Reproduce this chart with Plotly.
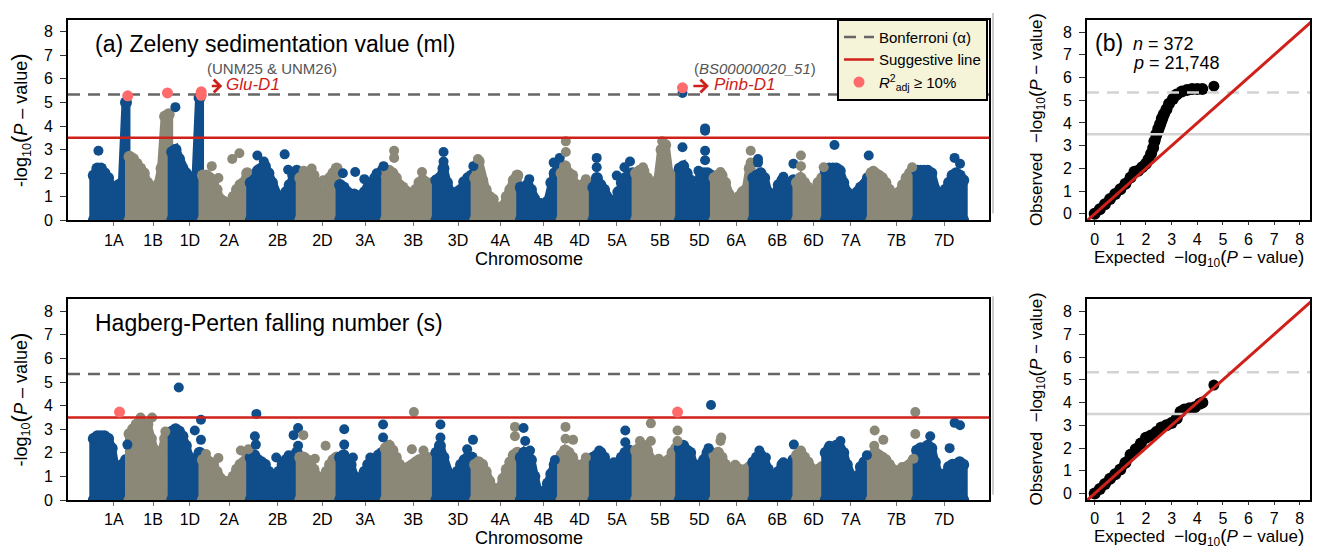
import plotly.graph_objects as go

# la page HTML ajoute une marge de 8 px autour de la figure
OFF = 8
W, H = 1320 - OFF, 555 - OFF
FONT = "Liberation Sans, Arial, Helvetica, sans-serif"
BLUE = "#104E8B"
GRAY = "#8B8878"
HIT = "#FF6A6A"
RED = "#D0201A"

BONFERRONI = 5.34
SUGGESTIVE = 3.5

CHROMS = ["1A", "1B", "1D", "2A", "2B", "2D", "3A", "3B", "3D", "4A", "4B",
          "4D", "5A", "5B", "5D", "6A", "6B", "6D", "7A", "7B", "7D"]
CHR_LEN_MB = [576, 688, 496, 768, 800, 640, 736, 816, 624, 736, 656,
              512, 688, 704, 560, 624, 704, 464, 736, 736, 800]

# enveloppe (haut du nuage de points) lue le long de chaque chromosome
ZEL_ENV = [
    [1.9, 2.2, 2.2, 2.0, 1.8, 1.4, 1.4, 1.5, 1.6, 5.0],
    [2.7, 2.6, 2.4, 2.2, 2.0, 1.6, 1.3, 1.2, 1.5, 2.2, 4.4, 4.5],
    [2.9, 3.0, 2.6, 2.2, 2.0, 1.8, 1.7, 1.9, 5.2],
    [1.9, 1.9, 1.8, 1.6, 1.3, 0.9, 0.8, 0.7, 0.7, 1.0, 1.3, 1.5, 1.6, 2.0],
    [1.6, 1.7, 2.1, 2.2, 2.3, 2.0, 1.6, 1.1, 0.9, 0.9, 1.2, 1.5, 1.9, 2.1],
    [1.8, 1.9, 2.0, 2.0, 1.9, 1.5, 1.1, 1.0, 1.3, 1.8, 2.0, 2.2],
    [1.5, 1.4, 1.2, 1.1, 1.1, 1.0, 1.0, 1.2, 1.4, 1.6, 1.8, 1.9, 2.1],
    [2.0, 2.1, 2.0, 1.8, 1.5, 1.4, 1.2, 1.1, 1.1, 1.3, 1.6, 1.7, 1.6, 1.5, 1.6],
    [1.7, 1.8, 2.2, 1.6, 1.2, 1.1, 1.2, 1.3, 1.6, 1.8, 1.9],
    [1.8, 2.5, 1.7, 1.3, 1.0, 0.9, 0.5, 0.4, 0.6, 1.0, 1.3, 1.7, 1.9],
    [1.4, 1.4, 1.5, 1.3, 0.9, 0.7, 0.7, 0.6, 0.8, 1.6, 2.0, 2.2],
    [2.0, 2.3, 2.0, 1.9, 1.5, 1.3, 1.5, 1.6, 1.5],
    [1.4, 1.8, 1.5, 1.3, 0.9, 0.8, 0.8, 1.2, 1.6, 1.8, 1.9, 2.0],
    [2.0, 2.1, 2.1, 1.8, 1.5, 1.5, 1.7, 3.0, 3.2, 2.0, 1.9, 1.8],
    [2.2, 2.3, 2.0, 1.7, 1.2, 1.3, 1.8, 2.0, 2.0, 1.9],
    [1.8, 1.9, 1.9, 1.6, 1.1, 0.8, 0.7, 1.0, 1.2, 1.3, 2.2],
    [1.8, 1.9, 2.0, 1.8, 1.2, 1.0, 1.1, 1.5, 1.7, 1.6, 1.6, 1.7],
    [1.6, 1.8, 1.6, 1.4, 1.1, 1.2, 1.6, 1.8],
    [2.1, 2.2, 2.2, 2.2, 2.1, 1.6, 1.2, 1.0, 1.0, 1.2, 1.4, 1.5, 1.8],
    [2.0, 2.0, 1.9, 1.8, 1.6, 1.3, 1.1, 1.0, 1.2, 1.5, 1.8, 2.0, 2.0],
    [2.1, 2.1, 2.1, 2.1, 2.0, 1.3, 0.9, 0.9, 1.3, 1.6, 1.9, 2.0, 1.9, 1.7],
]
HFN_ENV = [
    [2.6, 2.7, 2.7, 2.7, 2.6, 2.2, 1.3, 1.3, 1.5, 1.7],
    [2.8, 3.0, 3.2, 3.3, 3.0, 3.2, 2.6, 2.1, 2.0, 2.0, 2.6, 2.3],
    [2.9, 3.0, 2.9, 2.7, 2.3, 1.8, 1.7, 1.7, 2.0],
    [1.7, 1.7, 1.6, 1.5, 1.2, 0.9, 0.8, 0.7, 0.8, 1.0, 1.3, 1.5, 1.6, 1.8],
    [1.8, 1.9, 1.7, 1.6, 1.5, 1.2, 0.8, 0.8, 1.2, 1.5, 1.7, 1.7, 1.8, 2.0],
    [1.8, 1.8, 1.7, 1.5, 1.3, 1.0, 0.8, 0.9, 1.2, 1.5, 1.7, 1.8],
    [1.8, 1.9, 1.7, 1.5, 1.0, 0.8, 0.9, 1.2, 1.5, 1.6, 1.7, 1.9, 2.0],
    [2.2, 2.3, 2.1, 1.8, 1.5, 1.3, 1.2, 1.4, 1.5, 1.6, 1.7, 1.7, 1.8, 1.7, 1.8],
    [2.0, 2.3, 1.8, 1.2, 0.9, 0.9, 1.2, 1.5, 1.7, 1.8, 1.8],
    [1.5, 1.6, 1.5, 1.2, 0.8, 0.5, 0.4, 0.5, 0.9, 1.3, 1.6, 1.9, 2.0],
    [1.8, 2.0, 1.9, 1.7, 1.0, 0.4, 0.3, 0.3, 0.7, 1.1, 1.5, 1.6],
    [1.9, 2.1, 2.0, 1.8, 1.5, 1.4, 1.5, 1.6, 1.5],
    [1.8, 1.9, 2.0, 1.8, 1.3, 1.1, 1.2, 1.4, 1.8, 2.0, 2.1, 2.0],
    [2.1, 2.2, 2.3, 2.1, 1.7, 1.5, 1.6, 1.6, 1.5, 1.7, 2.0, 2.2],
    [2.2, 2.3, 2.1, 2.0, 1.5, 1.4, 1.5, 1.7, 2.0, 2.0],
    [1.9, 2.0, 1.8, 1.5, 1.3, 1.3, 1.4, 1.3, 1.2, 1.3, 1.4],
    [1.6, 1.8, 1.9, 1.7, 1.3, 1.0, 0.9, 1.2, 1.5, 1.4, 1.5, 1.7],
    [1.9, 2.0, 1.8, 1.6, 1.3, 1.2, 1.3, 1.4],
    [2.0, 2.2, 2.2, 2.3, 2.2, 2.0, 1.5, 1.0, 0.8, 1.0, 1.4, 1.6, 1.8],
    [1.8, 2.0, 1.9, 1.8, 1.7, 1.5, 1.3, 1.2, 1.2, 1.3, 1.4, 1.5, 1.7],
    [2.1, 2.2, 2.2, 2.3, 2.2, 1.6, 1.1, 1.0, 1.1, 1.4, 1.5, 1.5, 1.6, 1.5],
]

# points isolés : (chromosome, position relative, -log10 P)
ZEL_OUT = [
    ("1A", 0.18, 2.95), ("1D", 0.16, 4.8),
    ("2A", 0.22, 2.3), ("2A", 0.36, 1.8), ("2A", 0.65, 2.6), ("2A", 0.80, 2.85),
    ("2B", 0.17, 2.75), ("2B", 0.30, 2.5), ("2B", 0.72, 2.8), ("2B", 0.79, 2.15),
    ("2D", 0.13, 2.1), ("2D", 0.33, 2.2), ("2D", 0.62, 1.7),
    ("3A", 0.10, 2.0), ("3A", 0.37, 2.05), ("3A", 0.57, 1.75), ("3A", 0.84, 2.0), ("3A", 0.99, 2.3),
    ("3B", 0.20, 2.95), ("3B", 0.20, 2.65), ("3B", 0.75, 2.05),
    ("3D", 0.23, 2.9), ("3D", 0.23, 2.5), ("3D", 0.74, 1.65), ("3D", 1.0, 2.3),
    ("4A", 0.10, 2.6),
    ("4B", 0.25, 1.75), ("4B", 0.85, 2.45), ("4B", 1.0, 2.65),
    ("4D", 0.19, 3.35), ("4D", 0.19, 2.9), ("4D", 0.82, 1.75),
    ("5A", 0.12, 2.65), ("5A", 0.12, 2.25), ("5A", 0.59, 1.9), ("5A", 0.77, 2.25), ("5A", 0.90, 2.5),
    ("5B", 0.20, 2.25), ("5B", 0.64, 3.35),
    ("5D", 0.13, 3.1), ("5D", 0.13, 5.4), ("5D", 0.78, 3.9), ("5D", 0.78, 3.8),
    ("5D", 0.78, 2.95), ("5D", 0.78, 2.55), ("5D", 0.59, 2.1),
    ("6A", 0.20, 2.05), ("6A", 0.98, 2.95), ("6A", 0.98, 2.45),
    ("6B", 0.15, 2.6), ("6B", 0.15, 2.45), ("6B", 0.73, 1.85), ("6B", 0.96, 2.4),
    ("6D", 0.20, 2.75), ("6D", 0.20, 2.3), ("6D", 0.99, 2.25),
    ("7A", 0.23, 3.2), ("7A", 0.98, 2.75),
    ("7B", 0.08, 2.1), ("7B", 0.93, 2.25),
    ("7D", 0.79, 2.65), ("7D", 0.90, 2.4),
]
HFN_OUT = [
    ("1A", 0.99, 2.35),
    ("1B", 0.30, 3.5), ("1B", 0.57, 3.5), ("1B", 0.88, 2.9),
    ("1D", 0.27, 4.77), ("1D", 0.79, 2.95), ("1D", 0.99, 3.4), ("1D", 0.99, 2.55),
    ("2A", 0.10, 1.95), ("2A", 0.36, 1.78), ("2A", 0.83, 2.1), ("2A", 0.99, 2.15),
    ("2B", 0.15, 3.65), ("2B", 0.12, 2.7), ("2B", 0.14, 2.35), ("2B", 0.55, 1.8),
    ("2B", 0.80, 1.9), ("2B", 0.90, 2.75), ("2B", 0.99, 3.05), ("2B", 0.99, 2.3),
    ("2D", 0.12, 2.75), ("2D", 0.41, 1.75), ("2D", 0.68, 2.3),
    ("3A", 0.13, 3.0), ("3A", 0.13, 2.35), ("3A", 0.32, 1.8), ("3A", 0.70, 1.8),
    ("3A", 0.98, 3.2), ("3A", 0.98, 2.65),
    ("3B", 0.59, 3.73), ("3B", 0.55, 2.15), ("3B", 0.78, 2.1),
    ("3D", 0.15, 3.2), ("3D", 0.15, 2.65), ("3D", 0.84, 2.15), ("3D", 0.99, 2.55),
    ("4A", 0.91, 3.1), ("4A", 0.91, 2.7),
    ("4B", 0.11, 3.05), ("4B", 0.15, 2.5), ("4B", 0.27, 2.1), ("4B", 0.88, 1.7),
    ("4D", 0.18, 3.1), ("4D", 0.18, 2.6), ("4D", 0.42, 2.55), ("4D", 0.82, 1.8),
    ("5A", 0.18, 2.1), ("5A", 0.52, 1.6), ("5A", 0.79, 2.95), ("5A", 0.79, 2.45),
    ("5B", 0.13, 2.5), ("5B", 0.38, 3.25), ("5B", 0.38, 2.5), ("5B", 0.56, 1.75),
    ("5B", 0.99, 2.95), ("5B", 0.99, 2.5),
    ("5D", 0.95, 4.03), ("5D", 0.88, 2.2),
    ("6A", 0.22, 2.65), ("6A", 0.20, 2.5), ("6A", 0.58, 1.5),
    ("6B", 0.18, 2.1), ("6B", 0.33, 1.8), ("6B", 0.73, 1.6), ("6B", 0.97, 2.35),
    ("6D", 0.20, 2.1),
    ("7A", 0.12, 2.3), ("7A", 0.36, 2.5), ("7A", 0.94, 1.9),
    ("7B", 0.11, 2.95), ("7B", 0.10, 2.3), ("7B", 0.30, 2.55), ("7B", 0.71, 1.4),
    ("7B", 0.96, 1.75), ("7B", 1.0, 3.73), ("7B", 1.0, 2.8),
    ("7D", 0.30, 2.7), ("7D", 0.69, 2.2), ("7D", 0.79, 3.27), ("7D", 0.90, 3.17), ("7D", 0.89, 1.6),
]

# marqueurs R2adj >= 10 %
ZEL_HITS = [("1A", 1.0, 5.28), ("1B", 0.93, 5.4), ("1D", 1.0, 5.45), ("1D", 1.0, 5.3), ("5D", 0.13, 5.62)]
HFN_HITS = [("1A", 0.77, 3.73), ("5B", 0.99, 3.73)]

# QQ-plots (attendu vs observé)
QQ_ZEL_EXP = [0.0, 0.2, 0.4, 0.6, 0.8, 1.0, 1.2, 1.4, 1.55, 1.7, 1.85, 2.0, 2.1, 2.2, 2.28,
              2.33, 2.4, 2.48, 2.55, 2.62, 2.7, 2.8, 2.9, 3.05, 3.2, 3.4, 3.6, 3.8, 4.0, 4.2, 4.65]
QQ_ZEL_OBS = [0.0, 0.2, 0.42, 0.65, 0.87, 1.08, 1.32, 1.6, 1.85, 1.9, 2.05, 2.2, 2.4, 2.65, 2.9,
              3.2, 3.5, 3.75, 3.95, 4.2, 4.4, 4.6, 4.85, 5.05, 5.25, 5.38, 5.45, 5.5, 5.5, 5.5, 5.62]
QQ_HFN_EXP = [0.0, 0.2, 0.4, 0.6, 0.8, 1.0, 1.2, 1.4, 1.6, 1.8, 2.0, 2.2, 2.4, 2.6, 2.8, 3.0,
              3.2, 3.35, 3.5, 3.7, 3.9, 4.1, 4.2, 4.65]
QQ_HFN_OBS = [0.0, 0.2, 0.42, 0.65, 0.85, 1.06, 1.35, 1.7, 1.95, 2.2, 2.45, 2.55, 2.7, 2.9, 3.0, 3.1,
              3.3, 3.6, 3.7, 3.75, 3.8, 3.95, 4.0, 4.77]

starts = []
acc = 0
for L in CHR_LEN_MB:
    starts.append(acc)
    acc += L
TOTAL = acc
PAD = TOTAL * 24 / 873
XRANGE = [-PAD, TOTAL + PAD]
TICKS = [s + L / 2 + TOTAL * 4 / 873 for s, L in zip(starts, CHR_LEN_MB)]


def chrom_x(name, frac):
    i = CHROMS.index(name)
    return starts[i] + frac * CHR_LEN_MB[i]


def color_of(name):
    return BLUE if CHROMS.index(name) % 2 == 0 else GRAY


# positions (pixels de la fenêtre) -> papier
def px(x):
    return (x - OFF) / W


def py(y):
    return 1 - (y - OFF) / H


fig = go.Figure()


def add_manhattan(env, outliers, hits, xa, ya, legend):
    for i, ys in enumerate(env):
        col = BLUE if i % 2 == 0 else GRAY
        n = len(ys)
        xs = [starts[i] + (k + 0.5) / n * CHR_LEN_MB[i] for k in range(n)]
        fig.add_trace(go.Scatter(
            x=[xs[0]] + xs + [xs[-1]], y=[0] + ys + [0], mode="lines+markers",
            fill="toself", fillcolor=col, line=dict(color=col, width=9),
            marker=dict(color=col, size=12), xaxis=xa, yaxis=ya,
            showlegend=False, hoverinfo="skip"))
    fig.add_trace(go.Scatter(
        x=[chrom_x(c, f) for c, f, _ in outliers], y=[v for _, _, v in outliers],
        mode="markers", marker=dict(color=[color_of(c) for c, _, _ in outliers], size=10),
        xaxis=xa, yaxis=ya, showlegend=False, hoverinfo="skip"))
    fig.add_trace(go.Scatter(
        x=XRANGE, y=[BONFERRONI] * 2, mode="lines", name="Bonferroni (α)",
        line=dict(color="#666666", width=2.5, dash="12px,8px"),
        xaxis=xa, yaxis=ya, showlegend=legend, hoverinfo="skip"))
    fig.add_trace(go.Scatter(
        x=XRANGE, y=[SUGGESTIVE] * 2, mode="lines", name="Suggestive line",
        line=dict(color=RED, width=2.5), xaxis=xa, yaxis=ya,
        showlegend=legend, hoverinfo="skip"))
    fig.add_trace(go.Scatter(
        x=[chrom_x(c, f) for c, f, _ in hits], y=[v for _, _, v in hits],
        mode="markers", name="<i>R</i><sup>2</sup><sub>adj</sub> ≥ 10%",
        marker=dict(color=HIT, size=11), xaxis=xa, yaxis=ya,
        showlegend=legend, hoverinfo="skip"))


def add_qq(exp, obs, xa, ya):
    fig.add_trace(go.Scatter(
        x=exp[:-1], y=obs[:-1], mode="lines+markers",
        line=dict(color="black", width=9), marker=dict(color="black", size=12),
        xaxis=xa, yaxis=ya, showlegend=False, hoverinfo="skip"))
    fig.add_trace(go.Scatter(
        x=exp[-1:], y=obs[-1:], mode="markers", marker=dict(color="black", size=11),
        xaxis=xa, yaxis=ya, showlegend=False, hoverinfo="skip"))
    fig.add_trace(go.Scatter(
        x=[-0.3, 8.4], y=[BONFERRONI] * 2, mode="lines",
        line=dict(color="#D3D3D3", width=2.5, dash="12px,8px"),
        xaxis=xa, yaxis=ya, showlegend=False, hoverinfo="skip"))
    fig.add_trace(go.Scatter(
        x=[-0.3, 8.4], y=[SUGGESTIVE] * 2, mode="lines",
        line=dict(color="#D3D3D3", width=2.5),
        xaxis=xa, yaxis=ya, showlegend=False, hoverinfo="skip"))
    fig.add_trace(go.Scatter(
        x=[-0.3, 8.6], y=[-0.3, 8.6], mode="lines", line=dict(color=RED, width=3),
        xaxis=xa, yaxis=ya, showlegend=False, hoverinfo="skip"))


add_manhattan(ZEL_ENV, ZEL_OUT, ZEL_HITS, "x", "y", True)
add_manhattan(HFN_ENV, HFN_OUT, HFN_HITS, "x2", "y2", False)
add_qq(QQ_ZEL_EXP, QQ_ZEL_OBS, "x3", "y3")
add_qq(QQ_HFN_EXP, QQ_HFN_OBS, "x4", "y4")

TICKFONT = dict(size=16, family=FONT, color="black")


def frame(**kw):
    d = dict(showline=True, linecolor="black", linewidth=2, mirror=True,
             showgrid=False, zeroline=False, ticks="outside", tickcolor="#333",
             tickfont=TICKFONT, fixedrange=True)
    d.update(kw)
    return d


man_x = dict(domain=[px(68), px(989)], range=XRANGE, tickvals=TICKS,
             ticktext=CHROMS, ticklen=4, tickcolor="#777")
man_y = dict(range=[0, 8.5], tickvals=list(range(9)), ticklen=6, ticklabelstandoff=4)
qq_x = dict(domain=[px(1087), px(1310)], range=[-0.3, 8.4], tickvals=list(range(9)), ticklen=3)
qq_y = dict(range=[-0.29, 8.54], tickvals=list(range(9)), ticklen=6, ticklabelstandoff=4)
top_dom = [py(224), py(20)]
bot_dom = [py(508.3), py(304.3)]

ylab = ('-log<sub>10</sub><span style="font-size:22px">(</span><i>P</i> – value'
        '<span style="font-size:22px">)</span>')
qlab = ('−log<sub>10</sub><span style="font-size:19px">(</span><i>P</i> − value'
        '<span style="font-size:19px">)</span>')


def note(text, x, y, size=18, angle=0, anchor="center", color="black"):
    return dict(text=text, x=x, y=y, xref="paper", yref="paper", showarrow=False,
                textangle=angle, xanchor=anchor, yanchor="middle",
                font=dict(size=size, family=FONT, color=color))


annotations = [
    note("(a) Zeleny sedimentation value (ml)", px(93), py(45), 23, anchor="left"),
    note("Hagberg-Perten falling number (s)", px(93), py(328), 23, anchor="left"),
    note(ylab, px(20), py(122), 18, -90),
    note(ylab, px(20), py(406), 18, -90),
    note("Chromosome", px(528.5), py(263), 18),
    note("Chromosome", px(528.5), py(547), 18),
    note("Observed  " + qlab, px(1037), py(122), 17, -90),
    note("Observed  " + qlab, px(1037), py(406), 17, -90),
    note("Expected  " + qlab, px(1198.5), py(262), 17),
    note("Expected  " + qlab, px(1198.5), py(546), 17),
    note("(b)", px(1093), py(44), 23, anchor="left"),
    note("<i>n</i> = 372", px(1131), py(45), 18, anchor="left"),
    note("<i>p</i> = 21,748", px(1131), py(64), 18, anchor="left"),
]


def data_note(text, name, frac, y, size, color):
    return dict(text=text, x=chrom_x(name, frac), y=y, xref="x", yref="y",
                showarrow=False, xanchor="left", yanchor="middle",
                font=dict(size=size, family=FONT, color=color))


def arrow(name, f0, f1, y):
    return dict(text="", x=chrom_x(name, f1), y=y, ax=chrom_x(name, f0), ay=y,
                xref="x", yref="y", axref="x", ayref="y", showarrow=True,
                arrowhead=4, arrowsize=1.0, arrowwidth=2.5, arrowcolor=RED)


annotations += [
    data_note("(UNM25 &amp; UNM26)", "2A", 0.08, 6.45, 15, "#555555"),
    arrow("2A", 0.19, 0.44, 5.7),
    data_note("<i>Glu-D1</i>", "2A", 0.48, 5.75, 17, RED),
    data_note("(<i>BS00000020_51</i>)", "5D", 0.40, 6.45, 15, "#555555"),
    arrow("5D", 0.40, 0.89, 5.7),
    data_note("<i>Pinb-D1</i>", "5D", 0.97, 5.75, 17, RED),
]

shapes = [
    dict(type="line", xref="paper", yref="paper", x0=px(993), x1=px(993),
         y0=py(217), y1=py(13), line=dict(color="#BBBBBB", width=1.5)),
    dict(type="line", xref="paper", yref="paper", x0=px(993), x1=px(993),
         y0=py(503), y1=py(301), line=dict(color="#BBBBBB", width=1.5)),
]

fig.update_layout(
    width=W, height=H, margin=dict(l=0, r=0, t=0, b=0),
    paper_bgcolor="white", plot_bgcolor="white",
    font=dict(family=FONT, size=16, color="black"),
    xaxis=frame(**man_x, anchor="y"),
    yaxis=frame(**man_y, domain=top_dom, anchor="x"),
    xaxis2=frame(**man_x, anchor="y2"),
    yaxis2=frame(**man_y, domain=bot_dom, anchor="x2"),
    xaxis3=frame(**qq_x, anchor="y3"),
    yaxis3=frame(**qq_y, domain=top_dom, anchor="x3"),
    xaxis4=frame(**qq_x, anchor="y4"),
    yaxis4=frame(**qq_y, domain=bot_dom, anchor="x4"),
    legend=dict(x=px(988), xanchor="right", y=py(19), yanchor="top",
                bgcolor="#F5F3D8", bordercolor="black", borderwidth=2,
                font=dict(size=15, family=FONT), itemwidth=30, tracegroupgap=0),
    annotations=annotations, shapes=shapes,
)

fig.write_html("out.html")
